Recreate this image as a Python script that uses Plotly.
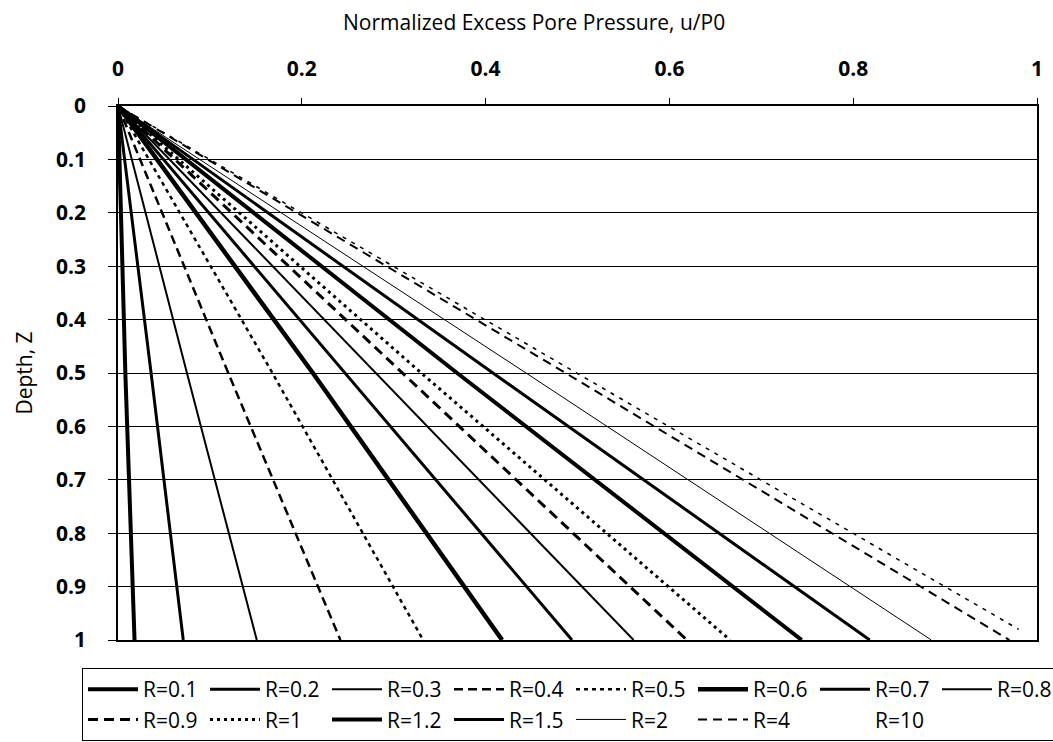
import plotly.graph_objects as go

# Dimensionless depth nodes and normalized excess pore pressure u/P0 per R value
depth = [0.0, 0.5, 1.0]
depth_r10 = [0.0, 0.5, 0.98]

r_labels = ["R=0.1", "R=0.2", "R=0.3", "R=0.4", "R=0.5", "R=0.6", "R=0.7", "R=0.8",
            "R=0.9", "R=1", "R=1.2", "R=1.5", "R=2", "R=4", "R=10"]

u_r01 = [0.0, 0.008, 0.018]
u_r02 = [0.0, 0.036, 0.071]
u_r03 = [0.0, 0.075, 0.151]
u_r04 = [0.0, 0.120, 0.242]
u_r05 = [0.0, 0.168, 0.332]
u_r06 = [0.0, 0.212, 0.418]
u_r07 = [0.0, 0.247, 0.494]
u_r08 = [0.0, 0.280, 0.561]
u_r09 = [0.0, 0.309, 0.619]
u_r1 = [0.0, 0.330, 0.666]
u_r12 = [0.0, 0.369, 0.744]
u_r15 = [0.0, 0.408, 0.818]
u_r2 = [0.0, 0.444, 0.885]
u_r4 = [0.0, 0.487, 0.970]
u_r10 = [0.0, 0.499, 0.980]

x_ticks = [0, 0.2, 0.4, 0.6, 0.8, 1]
y_ticks = [0, 0.1, 0.2, 0.3, 0.4, 0.5, 0.6, 0.7, 0.8, 0.9, 1]

series = [u_r01, u_r02, u_r03, u_r04, u_r05, u_r06, u_r07, u_r08,
          u_r09, u_r1, u_r12, u_r15, u_r2, u_r4, u_r10]

# line width and dash for each curve
styles = [
    (4.0, "solid"), (3.0, "solid"), (2.0, "solid"), (2.5, "9px,5px"),
    (2.5, "4px,4px"), (4.5, "solid"), (3.0, "solid"), (2.0, "solid"),
    (3.0, "10px,6px"), (3.0, "3px,4px"), (4.0, "solid"), (3.0, "solid"),
    (1.0, "solid"), (2.0, "9px,6px"), (1.5, "4px,6px"),
]

FONT = "Open Sans"

fig = go.Figure()
for name, u, (w, dash) in zip(r_labels, series, styles):
    is_r10 = name == "R=10"
    fig.add_trace(go.Scatter(
        x=u, y=depth_r10 if is_r10 else depth, mode="lines", name=name,
        line=dict(color="black", width=w, dash=dash),
        showlegend=not is_r10,
    ))

# R=10 legend entry is shown without a line sample
fig.add_trace(go.Scatter(
    x=[None], y=[None], mode="lines", name="R=10",
    line=dict(color="rgba(0,0,0,0)", width=1),
))

W, H = 1053, 742
ML, MR, MT, MB = 118, 16, 106, 102
pw = W - ML - MR
ph = H - MT - MB

fig.update_layout(
    width=W, height=H,
    margin=dict(l=ML, r=MR, t=MT, b=MB, autoexpand=False),
    paper_bgcolor="white", plot_bgcolor="white",
    font=dict(family=FONT, size=21, color="black"),
    showlegend=True,
    legend=dict(
        orientation="h",
        x=(82 - ML) / pw, xanchor="left",
        y=-(668 - (MT + ph)) / ph, yanchor="top",
        font=dict(family=FONT, size=21, color="black"),
        bordercolor="black", borderwidth=1,
        itemwidth=50,
        entrywidth=57, entrywidthmode="pixels",
        bgcolor="white",
        traceorder="normal",
    ),
    xaxis=dict(
        side="top", range=[0, 1], tickvals=x_ticks,
        ticktext=[f"{v:g}" for v in x_ticks],
        tickfont=dict(family=FONT, size=21, weight="bold"),
        ticks="outside", ticklen=6, tickcolor="black", tickwidth=1,
        ticklabelstandoff=14,
        showgrid=False, zeroline=False,
        showline=True, linecolor="black", linewidth=2, mirror=True,
    ),
    yaxis=dict(
        range=[1, 0], tickvals=y_ticks,
        ticktext=[f"{v:g}" for v in y_ticks],
        tickfont=dict(family=FONT, size=21, weight="bold"),
        ticks="outside", ticklen=8, tickcolor="black", tickwidth=1,
        ticklabelstandoff=18,
        showgrid=True, gridcolor="black", gridwidth=1, zeroline=False,
        showline=True, linecolor="black", linewidth=1.5, mirror=True,
        title=dict(text="Depth, Z", font=dict(family=FONT, size=21), standoff=18),
    ),
    annotations=[dict(
        text="Normalized Excess Pore Pressure, u/P0",
        xref="paper", yref="paper",
        x=(534 - ML) / pw, y=1 + (MT - 22) / ph,
        xanchor="center", yanchor="middle", showarrow=False,
        font=dict(family=FONT, size=21, color="black"),
    )],
)

fig.write_html("out.html")
